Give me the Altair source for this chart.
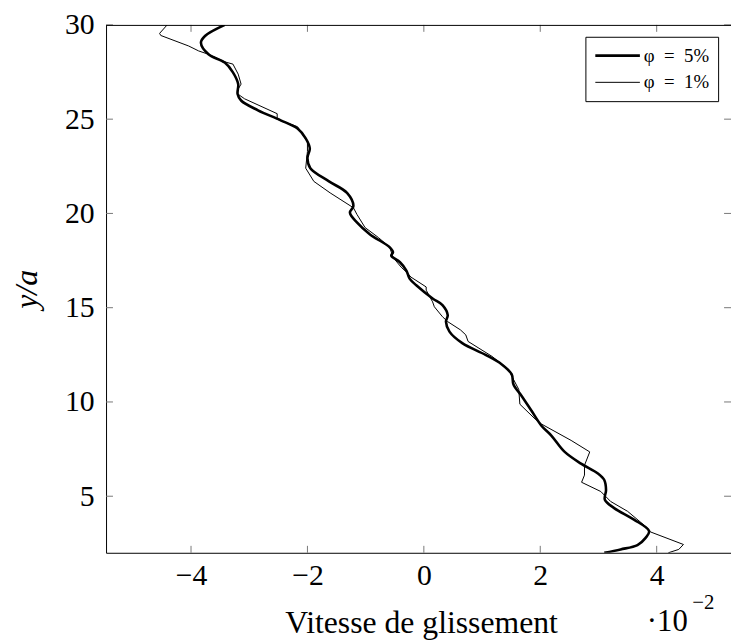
import altair as alt
import pandas as pd

# ---- data ----
x_ticks = [-4, -2, 0, 2, 4]
y_ticks = [5, 10, 15, 20, 25, 30]
series_labels = ["\u03c6\u2002=\u20025%", "\u03c6\u2002=\u20021%"]

# phi = 5 % (thick line), ordered from top to bottom
y_phi5 = [30.0, 29.41, 29.05, 28.44, 28.0, 27.48, 26.86, 26.34, 25.99, 25.47,
          24.94, 24.5, 23.98, 23.45, 22.93, 22.4, 21.7, 21.09, 20.39, 20.04,
          19.52, 18.9, 18.2, 17.94, 17.76, 17.41, 16.97, 16.54, 16.19, 15.49,
          15.14, 14.61, 14.26, 13.73, 13.12, 12.5, 11.99, 11.46, 10.93, 10.32,
          9.53, 8.74, 8.22, 7.35, 6.73, 6.21, 5.86, 5.33, 4.81, 4.37,
          3.76, 3.15, 2.79, 2.41, 2.18, 2.0]
v_phi5 = [-3.42, -3.76, -3.83, -3.70, -3.42, -3.28, -3.19, -3.20, -3.14, -2.85,
          -2.46, -2.17, -2.03, -1.96, -2.0, -1.95, -1.63, -1.32, -1.21, -1.27,
          -1.15, -0.93, -0.585, -0.53, -0.56, -0.41, -0.30, -0.245, -0.13, 0.15,
          0.32, 0.41, 0.38, 0.44, 0.66, 1.06, 1.34, 1.51, 1.54, 1.68,
          1.85, 2.02, 2.19, 2.42, 2.70, 2.99, 3.10, 3.13, 3.11, 3.27,
          3.61, 3.87, 3.81, 3.67, 3.38, 3.10]

# phi = 1 % (thin line), ordered from top to bottom
y_phi1 = [30.0, 29.55, 29.44, 28.88, 28.62, 28.44, 28.04, 27.92, 27.39, 26.86,
          26.6, 26.34, 26.08, 25.29, 24.99, 24.6, 23.8, 23.29, 22.4, 21.7,
          21.09, 20.3, 19.95, 19.25, 18.72, 18.2, 17.67, 17.15, 16.89, 16.62,
          16.10, 15.93, 15.31, 15.05, 14.52, 14.26, 13.82, 13.56, 13.21, 12.42,
          11.72, 11.37, 10.67, 9.88, 9.10, 8.83, 7.96, 7.35, 6.64, 6.12,
          5.74, 5.25, 4.72, 4.20, 3.32, 3.11, 2.44, 2.18, 2.0]
v_phi1 = [-4.41, -4.54, -4.52, -4.04, -3.87, -3.70, -3.42, -3.28, -3.19, -3.14,
          -3.19, -3.20, -3.08, -2.52, -2.52, -2.17, -2.0, -2.0, -2.03, -1.89,
          -1.61, -1.21, -1.15, -1.01, -0.78, -0.585, -0.53, -0.39, -0.30, -0.22,
          0.04, 0.04, 0.15, 0.18, 0.32, 0.41, 0.63, 0.72, 0.76, 1.17,
          1.46, 1.51, 1.63, 1.65, 1.91, 2.02, 2.53, 2.85, 2.76, 2.76,
          2.71, 3.04, 3.21, 3.50, 3.84, 3.89, 4.46, 4.38, 4.20]

# ---- layout / style ----
X_DOMAIN = [-5.46, 5.277]
Y_DOMAIN = [2, 30]
W, H = 631, 533
FONT = "Liberation Serif"
TICK = 7

df5 = pd.DataFrame({"v": v_phi5, "y": y_phi5, "i": list(range(len(y_phi5)))})
df1 = pd.DataFrame({"v": v_phi1, "y": y_phi1, "i": list(range(len(y_phi1)))})
xt_df = pd.DataFrame({"v": x_ticks})
yt_df = pd.DataFrame({"y": y_ticks})
dummy = pd.DataFrame({"a": [0]})

xs = alt.Scale(domain=X_DOMAIN, nice=False, zero=False)
ys = alt.Scale(domain=Y_DOMAIN, nice=False, zero=False)

x_axis = alt.Axis(values=x_ticks, format="d", ticks=False, grid=False,
                  domainColor="black", domainWidth=1, labelFlush=False,
                  labelFont=FONT, labelFontSize=30, labelPadding=8, labelColor="black",
                  title="Vitesse de glissement", titleFont=FONT, titleFontSize=32,
                  titleFontWeight="normal", titleColor="black",
                  titleBaseline="alphabetic", titleAlign="center",
                  titleX=318, titleY=80)
y_axis = alt.Axis(values=y_ticks, format="d", ticks=False, grid=False,
                  domainColor="black", domainWidth=1,
                  labelFont=FONT, labelFontSize=30, labelPadding=12, labelColor="black",
                  title="y/a", titleFont=FONT, titleFontStyle="italic", titleFontSize=32,
                  titleFontWeight="normal", titleColor="black", titleAngle=270,
                  titleX=-70, titleY=H / 2, titleBaseline="alphabetic", titleAlign="center")

X = alt.X("v:Q", scale=xs, axis=x_axis)
Y = alt.Y("y:Q", scale=ys, axis=y_axis)

line5 = alt.Chart(df5).mark_line(color="black", strokeWidth=2.6, clip=True,
                                 interpolate="catmull-rom").encode(
    x=X, y=Y, order=alt.Order("i:Q"))
line1 = alt.Chart(df1).mark_line(color="black", strokeWidth=1, clip=True).encode(
    x=X, y=Y, order=alt.Order("i:Q"))

tick_style = dict(color="#777777", strokeWidth=1)
bottom_ticks = alt.Chart(xt_df).mark_rule(**tick_style).encode(
    x=X, y=alt.value(H), y2=alt.value(H - TICK))
top_ticks = alt.Chart(xt_df).mark_rule(**tick_style).encode(
    x=X, y=alt.value(0), y2=alt.value(TICK))
left_ticks = alt.Chart(yt_df).mark_rule(**tick_style).encode(
    y=Y, x=alt.value(0), x2=alt.value(TICK))
right_ticks = alt.Chart(yt_df).mark_rule(**tick_style).encode(
    y=Y, x=alt.value(W), x2=alt.value(W - TICK))

top_frame = alt.Chart(dummy).mark_rule(color="black", strokeWidth=1).encode(
    x=alt.value(0), x2=alt.value(W), y=alt.value(0.5))

# legend (manual, pgfplots style)
leg_box = alt.Chart(dummy).mark_rect(fill="white", stroke="black", strokeWidth=1).encode(
    x=alt.value(484.5), x2=alt.value(618.5), y=alt.value(12.5), y2=alt.value(77.5))
leg_line5 = alt.Chart(dummy).mark_rule(color="black", strokeWidth=2.6).encode(
    x=alt.value(494), x2=alt.value(539), y=alt.value(31))
leg_line1 = alt.Chart(dummy).mark_rule(color="black", strokeWidth=1).encode(
    x=alt.value(494), x2=alt.value(539), y=alt.value(58))
leg_txt5 = alt.Chart(pd.DataFrame({"label": [series_labels[0]]})).mark_text(
    align="left", baseline="middle", font=FONT, fontSize=19, color="black").encode(
    x=alt.value(543), y=alt.value(31), text="label:N")
leg_txt1 = alt.Chart(pd.DataFrame({"label": [series_labels[1]]})).mark_text(
    align="left", baseline="middle", font=FONT, fontSize=19, color="black").encode(
    x=alt.value(543), y=alt.value(58), text="label:N")

# axis multiplier  ·10^-2
mult = alt.Chart(pd.DataFrame({"s": ["\u00b710"]})).mark_text(
    align="left", baseline="alphabetic", font=FONT, fontSize=31, color="black").encode(
    x=alt.value(546), y=alt.value(612), text="s:N")
mult_exp = alt.Chart(pd.DataFrame({"s": ["\u22122"]})).mark_text(
    align="left", baseline="alphabetic", font=FONT, fontSize=21, color="black").encode(
    x=alt.value(592), y=alt.value(590), text="s:N")

chart = alt.layer(
    line1, line5,
    bottom_ticks, top_ticks, left_ticks, right_ticks, top_frame,
    leg_box, leg_line5, leg_line1, leg_txt5, leg_txt1,
    mult, mult_exp,
).properties(
    width=W, height=H,
    autosize=alt.AutoSizeParams(type="none"),
    padding={"left": 99, "top": 14, "right": 0, "bottom": 85},
    background="white",
).configure_view(strokeWidth=0)

chart.save("out.html", embed_options={"renderer": "svg", "actions": False})
